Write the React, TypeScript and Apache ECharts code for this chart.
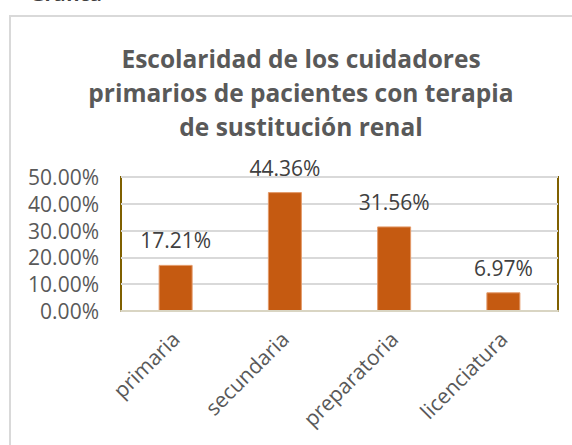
import React, { useEffect, useRef } from "react";
import * as echarts from "echarts";

const categories = ["primaria", "secundaria", "preparatoria", "licenciatura"];
const values = [17.21, 44.36, 31.56, 6.97];
const titleLines = [
  "Escolaridad de los cuidadores",
  "primarios de pacientes con terapia",
  "de sustitución renal",
];
const yMin = 0;
const yMax = 50;
const yInterval = 10;

export default function App() {
  const ref = useRef<HTMLDivElement>(null);
  useEffect(() => {
    if (!ref.current) return;
    const chart = echarts.init(ref.current, undefined, { renderer: "svg" });
    chart.setOption({
      animation: false,
      backgroundColor: "#ffffff",
      title: {
        text: titleLines.join("\n"),
        left: 296,
        top: 36,
        textAlign: "center",
        textStyle: {
          fontFamily: "Open Sans",
          fontWeight: "bold",
          fontSize: 24.5,
          lineHeight: 34,
          color: "#595959",
        },
      },
      graphic: [
        {
          type: "rect",
          silent: true,
          z: -1,
          shape: { x: 10, y: 16, width: 700, height: 700 },
          style: { fill: "none", stroke: "#d9d9d9", lineWidth: 2 },
        },
        {
          type: "text",
          left: 30,
          top: -17,
          style: {
            text: "Gráfica",
            font: "bold 20px Open Sans",
            fill: "#404040",
          },
        },
      ],
      grid: {
        left: 121,
        right: 14,
        top: 177,
        bottom: 134,
        show: true,
        borderColor: "#7f6000",
        borderWidth: 2,
        backgroundColor: "transparent",
      },
      xAxis: {
        type: "category",
        data: categories,
        axisLine: { show: true, lineStyle: { color: "#d9d5c3", width: 2 } },
        axisTick: { show: false },
        axisLabel: {
          rotate: 45,
          margin: 24,
          fontFamily: "Open Sans",
          fontSize: 21,
          color: "#595959",
          interval: 0,
        },
        z: 5,
      },
      yAxis: {
        type: "value",
        min: yMin,
        max: yMax,
        interval: yInterval,
        axisLine: { show: false },
        axisTick: { show: false },
        splitLine: { lineStyle: { color: "#d9d9d9", width: 2 } },
        axisLabel: {
          margin: 22,
          fontFamily: "Open Sans",
          fontSize: 21,
          color: "#595959",
          formatter: (v: number) => v.toFixed(2) + "%",
        },
      },
      series: [
        {
          type: "bar",
          data: values,
          barWidth: 34,
          itemStyle: { color: "#c55a11", borderColor: "#e39a6a", borderWidth: 1 },
          label: {
            show: true,
            position: "top",
            distance: 14,
            fontFamily: "Open Sans",
            fontSize: 21,
            color: "#404040",
            formatter: (p: any) => p.value.toFixed(2) + "%",
          },
        },
      ],
    });
    return () => chart.dispose();
  }, []);
  return (
    <div
      ref={ref}
      style={{ position: "fixed", left: 0, top: 0, width: 572, height: 445 }}
    />
  );
}
